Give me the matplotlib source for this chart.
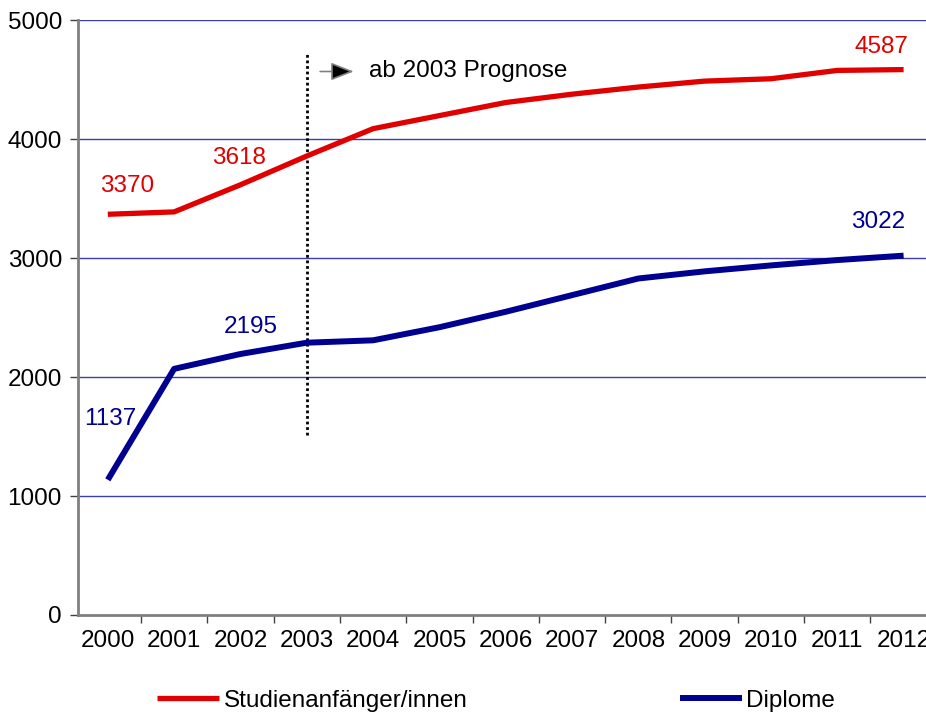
import matplotlib.pyplot as plt
import numpy as np

plt.rcParams['font.family'] = ['Liberation Sans', 'DejaVu Sans']

years = ['2000', '2001', '2002', '2003', '2004', '2005', '2006',
         '2007', '2008', '2009', '2010', '2011', '2012']
studienanfaenger = [3370, 3390, 3618, 3860, 4090, 4200, 4310, 4380, 4440,
                    4490, 4510, 4580, 4587]
diplome = [1137, 2070, 2195, 2290, 2310, 2420, 2550, 2690, 2830, 2890,
           2940, 2985, 3022]

# which points get a value label
red_labels = {0: (0.29, 3605), 2: (1.98, 3840), 12: (11.66, 4773)}
blue_labels = {0: (0.03, 1647), 2: (2.16, 2420), 12: (11.62, 3303)}

red = '#e00000'
blue = '#000090'
grid_col = '#3c3cb4'
fs = 17.5

fig = plt.figure(figsize=(9.26, 7.16), dpi=100)
ax = fig.add_axes([0.0842, 0.1411, 0.931, 0.8303])

x = np.arange(len(years))
ax.plot(x, studienanfaenger, color=red, lw=3.8, solid_capstyle='butt',
        label='Studienanfänger/innen', zorder=4)
ax.plot(x, diplome, color=blue, lw=4.3, solid_capstyle='butt',
        label='Diplome', zorder=4)

for i, (tx, ty) in red_labels.items():
    ax.text(tx, ty, str(studienanfaenger[i]), color=red, fontsize=fs,
            ha='center', va='center')
for i, (tx, ty) in blue_labels.items():
    ax.text(tx, ty, str(diplome[i]), color=blue, fontsize=fs,
            ha='center', va='center')

# forecast marker
ax.plot([3, 3], [1510, 4730], color='black', lw=2, ls=(0, (1, 1)), zorder=3)
ax.annotate('', xy=(3.75, 4571), xytext=(3.16, 4571),
            arrowprops=dict(arrowstyle='-|>,head_length=1.4,head_width=0.55',
                            ec='#808080', fc='black', lw=1.2))
ax.text(3.94, 4571, 'ab 2003 Prognose', fontsize=fs, ha='left', va='center')

ax.set_xlim(-0.45, 12.55)
ax.set_ylim(0, 5000)
ax.set_yticks([0, 1000, 2000, 3000, 4000, 5000])
for v in [1000, 2000, 3000, 4000, 5000]:
    ax.axhline(v, color=grid_col, lw=1, zorder=1)

ax.set_xticks(np.arange(13) + 0.5)
ax.set_xticklabels([])
ax.set_xticks(x, minor=True)
ax.set_xticklabels(years, minor=True)
ax.tick_params(axis='x', which='minor', length=0, pad=11, labelsize=fs)
ax.tick_params(axis='x', which='major', length=6, width=1, color='#404040')
ax.tick_params(axis='y', length=6, width=1, color='#404040', pad=5.5,
               labelsize=fs)

for s in ['top', 'right']:
    ax.spines[s].set_visible(False)
for s in ['left', 'bottom']:
    ax.spines[s].set_color('#808080')
    ax.spines[s].set_linewidth(2)

fig.legend(loc='center', bbox_to_anchor=(0.536, 0.021), ncol=2,
           frameon=False, fontsize=fs, handlelength=2.55, handletextpad=0.2,
           columnspacing=8.7, borderpad=0)

fig.savefig('out.png', dpi=100)
